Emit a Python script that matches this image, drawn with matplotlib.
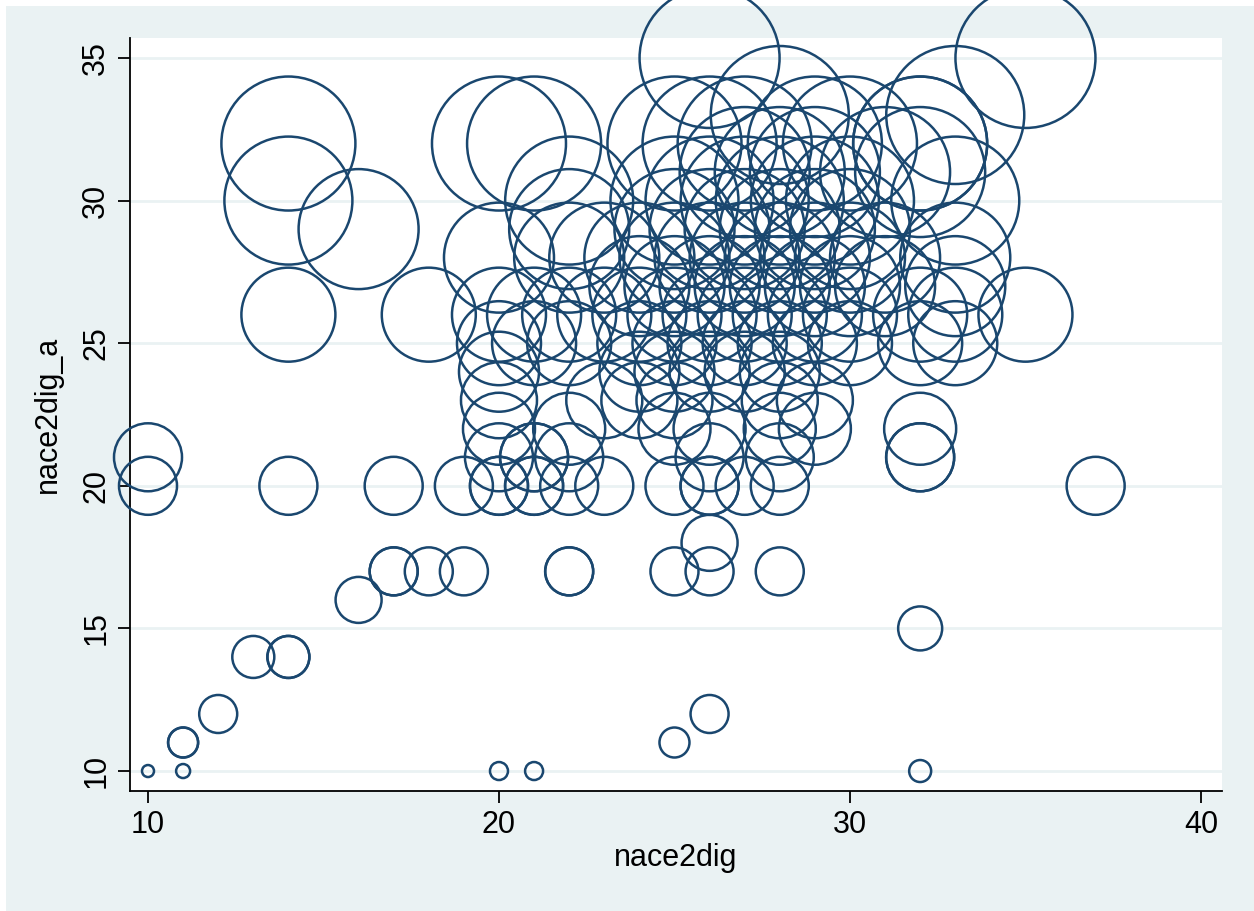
import numpy as np
import matplotlib.pyplot as plt
from matplotlib.patches import Rectangle

# nace2dig_a levels, the nace2dig values found at each level, and circle radius (px) per level
levels = [10, 11, 12, 14, 15, 16, 17, 18, 20, 21, 22, 23, 24, 25, 26, 27, 28, 29, 30, 31, 32, 33, 35]
codes_at_level = [
    [10, 11, 20, 21, 32],
    [11, 11, 25],
    [12, 26],
    [13, 14, 14],
    [32],
    [16],
    [17, 17, 18, 19, 22, 22, 25, 26, 28],
    [26],
    [10, 14, 17, 19, 20, 20, 21, 21, 22, 23, 25, 26, 26, 27, 28, 37],
    [10, 20, 21, 21, 22, 26, 28, 32, 32],
    [20, 22, 25, 26, 28, 29, 32],
    [20, 23, 24, 25, 28, 29],
    [20, 24, 25, 26, 27, 28],
    [20, 21, 22, 24, 25, 26, 27, 28, 29, 30, 32, 33],
    [14, 18, 20, 21, 22, 23, 24, 25, 26, 27, 28, 29, 30, 32, 33, 35],
    [24, 25, 26, 27, 28, 29, 30, 31, 33],
    [20, 22, 23, 24, 25, 26, 27, 28, 29, 30, 31, 33],
    [16, 22, 25, 26, 27, 28, 29, 30],
    [14, 22, 25, 26, 27, 28, 29, 30, 33],
    [27, 28, 29, 31, 32],
    [14, 20, 21, 25, 26, 27, 29, 30, 32, 32],
    [28, 33],
    [26, 35],
]
radius_at_level = [8, 15, 19, 21, 22, 23, 24, 28, 29, 34, 36, 38, 40, 42, 47, 50, 55, 60, 64, 65, 67, 69, 70]
# smaller circles on the bottom row
radius_row10 = [6, 7, 9, 9, 11]

nace2dig = []
nace2dig_a = []
radius = []
for lev, codes, r in zip(levels, codes_at_level, radius_at_level):
    for i, c in enumerate(codes):
        nace2dig.append(c)
        nace2dig_a.append(lev)
        radius.append(radius_row10[i] if lev == 10 else r)

dpi = 100
fig = plt.figure(figsize=(12.54, 9.11), dpi=dpi)
fig.patch.set_facecolor('white')
bg = '#EAF2F3'
fig.patches.append(Rectangle((6 / 1254, 0), 1, 1 - 6 / 911, transform=fig.transFigure,
                             facecolor=bg, edgecolor='none', zorder=-10))

ax = fig.add_axes([130 / 1254, 1 - 791 / 911, (1222 - 130) / 1254, (791 - 38) / 911])
ax.set_facecolor('white')

# marker size in points^2 from pixel radius
s = (2 * np.array(radius) * 72 / dpi) ** 2
ax.scatter(nace2dig, nace2dig_a, s=s, facecolors='none', edgecolors='#1A476F',
           linewidths=1.8, clip_on=False, zorder=3)

ax.set_xlim(9.487, 40.6)
ax.set_ylim(9.30, 35.70)
ax.set_xticks([10, 20, 30, 40])
ax.set_yticks([10, 15, 20, 25, 30, 35])
ax.yaxis.grid(True, color=bg, linewidth=2)
ax.set_axisbelow(True)

for side in ['top', 'right']:
    ax.spines[side].set_visible(False)
for side in ['left', 'bottom']:
    ax.spines[side].set_linewidth(1.3)

ax.tick_params(axis='both', direction='out', length=8.5, width=1.3, labelsize=22, pad=5)
for lbl in ax.get_yticklabels():
    lbl.set_rotation(90)
    lbl.set_va('center')

font = 'Liberation Sans'
for lbl in ax.get_xticklabels() + ax.get_yticklabels():
    lbl.set_family(font)
ax.set_xlabel('nace2dig', fontsize=22, family=font, labelpad=2)
ax.set_ylabel('nace2dig_a', fontsize=22, family=font, labelpad=13)

fig.savefig('out.png', dpi=dpi)
